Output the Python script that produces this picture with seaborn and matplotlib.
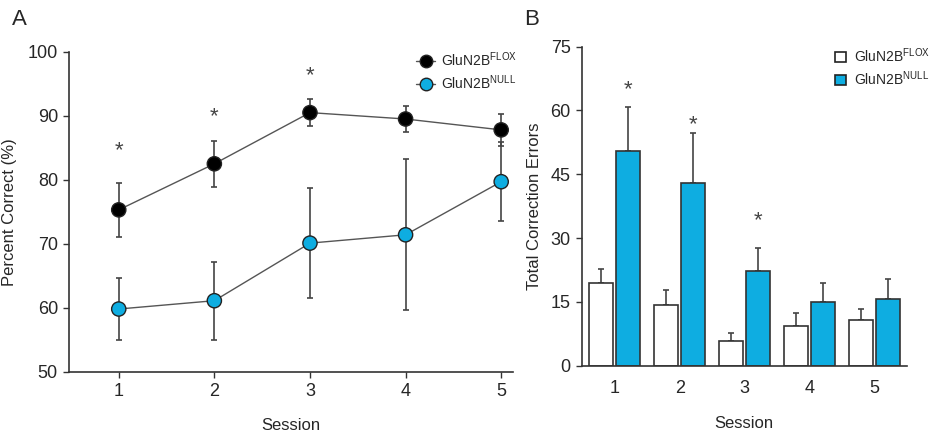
import matplotlib
matplotlib.use("Agg")
import matplotlib.pyplot as plt
from matplotlib.lines import Line2D
from matplotlib.patches import Patch
import seaborn as sns
import numpy as np
import pandas as pd

sns.set_theme(style="ticks")
plt.rcParams['font.family'] = ['Liberation Sans', 'DejaVu Sans']

# ---- data ----
sessions = [1, 2, 3, 4, 5]
session_labels = ["1", "2", "3", "4", "5"]
groups = ["GluN2B$^{\\mathregular{FLOX}}$", "GluN2B$^{\\mathregular{NULL}}$"]

pc_flox = [75.3, 82.5, 90.5, 89.5, 87.8]
pc_flox_err = [4.2, 3.6, 2.1, 2.1, 2.5]
pc_null = [59.8, 61.1, 70.1, 71.4, 79.7]
pc_null_err = [4.8, 6.1, 8.6, 11.8, 6.2]
pc_star_sessions = [1, 2, 3]
pc_star_y = [84.6, 89.8, 96.2]

err_flox = [19.4, 14.3, 5.8, 9.3, 10.7]
err_flox_sem = [3.3, 3.5, 1.8, 3.0, 2.6]
err_null = [50.5, 42.9, 22.3, 15.0, 15.6]
err_null_sem = [10.3, 11.7, 5.3, 4.5, 4.8]
err_star_idx = [0, 1, 2]
err_star_y = [64.8, 56.6, 34.1]

black = "#000000"
cyan = "#0eade1"
linegray = "#555555"
errgray = "#444444"

fig = plt.figure(figsize=(9.34, 4.37), dpi=100)
axA = fig.add_axes([0.0739, 0.1494, 0.475, 0.732])
axB = fig.add_axes([0.6228, 0.1632, 0.348, 0.730])

# ---- Panel A ----
dfA = pd.DataFrame({
    "Session": sessions * 2,
    "Pct": pc_flox + pc_null,
    "Group": [groups[0]] * 5 + [groups[1]] * 5,
})
axA.errorbar(sessions, pc_flox, yerr=pc_flox_err, fmt='none', ecolor=errgray,
             elinewidth=1.2, capsize=2, capthick=1.2, zorder=1)
axA.errorbar(sessions, pc_null, yerr=pc_null_err, fmt='none', ecolor=errgray,
             elinewidth=1.2, capsize=2, capthick=1.2, zorder=1)
sns.lineplot(data=dfA, x="Session", y="Pct", hue="Group", palette=[linegray, linegray],
             linewidth=1.0, legend=False, ax=axA, zorder=2)
sns.scatterplot(data=dfA, x="Session", y="Pct", hue="Group", palette=[black, cyan],
                s=105, edgecolor="#222222", linewidth=1.0, legend=False, ax=axA, zorder=3)
for s, y in zip(pc_star_sessions, pc_star_y):
    axA.text(s, y, "*", ha="center", va="center", fontsize=16, color="#444444")

axA.set_xlim(0.48, 5.12)
axA.set_ylim(50, 100)
axA.set_xticks(sessions)
axA.set_xticklabels(session_labels)
axA.set_yticks([50, 60, 70, 80, 90, 100])
axA.tick_params(axis='both', labelsize=13, length=4, width=1, color="#333333", pad=4)
axA.set_xlabel("Session", fontsize=12, labelpad=13)
axA.set_ylabel("Percent Correct (%)", fontsize=12, labelpad=8)
for sp in ["top", "right"]:
    axA.spines[sp].set_visible(False)
for sp in ["left", "bottom"]:
    axA.spines[sp].set_linewidth(1.2)
    axA.spines[sp].set_color("#333333")

hA = [Line2D([0], [0], color=linegray, lw=1.0, marker='o', markersize=9,
             markerfacecolor=black, markeredgecolor="#222222"),
      Line2D([0], [0], color=linegray, lw=1.0, marker='o', markersize=9,
             markerfacecolor=cyan, markeredgecolor="#222222")]
axA.legend(hA, groups, loc="upper left", bbox_to_anchor=(0.755, 1.045), frameon=False,
           fontsize=10, handlelength=1.3, handletextpad=0.5, labelspacing=0.35)

# ---- Panel B ----
dfB = pd.DataFrame({
    "Session": session_labels * 2,
    "Errors": err_flox + err_null,
    "Group": [groups[0]] * 5 + [groups[1]] * 5,
})
sns.barplot(data=dfB, x="Session", y="Errors", hue="Group", palette=["white", cyan],
            saturation=1, edgecolor="#333333", linewidth=1.2, width=0.83, gap=0.12,
            errorbar=None, legend=False, ax=axB, zorder=2)
bars = [p for p in axB.patches if p.get_height() > 0]
bars_sorted = sorted(bars, key=lambda p: p.get_x())
xs = [p.get_x() + p.get_width() / 2 for p in bars_sorted]
flox_x = xs[0::2]
null_x = xs[1::2]
axB.errorbar(flox_x, err_flox, yerr=[[0] * 5, err_flox_sem], fmt='none', ecolor=errgray,
             elinewidth=1.2, capsize=2, capthick=1.2, zorder=1)
axB.errorbar(null_x, err_null, yerr=[[0] * 5, err_null_sem], fmt='none', ecolor=errgray,
             elinewidth=1.2, capsize=2, capthick=1.2, zorder=1)
for i, y in zip(err_star_idx, err_star_y):
    axB.text(null_x[i], y, "*", ha="center", va="center", fontsize=16, color="#444444")

axB.set_xlim(-0.51, 4.5)
axB.set_ylim(0, 75)
axB.set_yticks([0, 15, 30, 45, 60, 75])
axB.tick_params(axis='y', labelsize=13, length=4, width=1, color="#333333", pad=4)
axB.tick_params(axis='x', labelsize=13, length=0, pad=10)
axB.set_xlabel("Session", fontsize=12, labelpad=14)
axB.set_ylabel("Total Correction Errors", fontsize=12, labelpad=6)
for sp in ["top", "right"]:
    axB.spines[sp].set_visible(False)
for sp in ["left", "bottom"]:
    axB.spines[sp].set_linewidth(1.2)
    axB.spines[sp].set_color("#333333")

hB = [Patch(facecolor="white", edgecolor="#222222", linewidth=1.2),
      Patch(facecolor=cyan, edgecolor="#222222", linewidth=1.2)]
axB.legend(hB, groups, loc="upper left", bbox_to_anchor=(0.74, 1.04), frameon=False,
           fontsize=10, handlelength=0.8, handleheight=0.8, handletextpad=0.6,
           labelspacing=0.3)

fig.text(0.013, 0.955, "A", fontsize=16, ha="left", va="center")
fig.text(0.561, 0.955, "B", fontsize=16, ha="left", va="center")

fig.savefig("out.png", dpi=100)
